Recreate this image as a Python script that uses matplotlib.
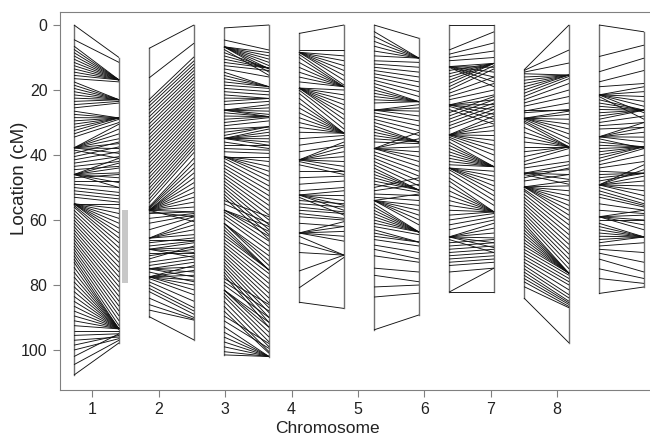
import numpy as np
import matplotlib
matplotlib.use('Agg')
import matplotlib.pyplot as plt
from matplotlib.collections import LineCollection

plt.rcParams['font.family'] = ['Liberation Sans', 'DejaVu Sans']

# marker positions (cM): (left map, right map)
chr1 = [(0, 10), (4.5, 11.5), (6.5, 16.9), (7.5, 16.9), (8.5, 16.9), (9.5, 16.9), (10.5, 16.9),
        (11.5, 16.9), (12.5, 16.9), (13.5, 16.9), (14.5, 16.9), (15.5, 16.9), (16.5, 17.5),
        (17.5, 23), (18.5, 23), (19.5, 23), (20.5, 23), (21.5, 23), (22.5, 23), (23.5, 23),
        (24.5, 23.5), (25.5, 24), (26.5, 28.6), (27.5, 28.6), (28.5, 28.6), (29.5, 28.6),
        (30.5, 28.6), (31.5, 28.6), (32.5, 28.6), (33.5, 29), (34.5, 30), (37.8, 30.5), (37.8, 32),
        (37.8, 33.5), (37.8, 35), (37.8, 36.5), (37.8, 38), (37.8, 39.5), (38.5, 41), (39.5, 36),
        (40.5, 37.5), (41.5, 39), (42.5, 40.5), (43.5, 42), (44.5, 43.5), (46, 41), (46, 42.5),
        (46, 44), (46, 45.5), (46, 47), (46, 48.5), (46, 50), (47, 46), (48, 48), (49, 50),
        (50, 51.5), (51, 52.5), (52, 53.5), (53, 54.5), (55, 55), (55, 56.5), (55, 58), (55, 59.5),
        (55, 61), (55, 62.5), (55, 64), (55, 65.5), (55.5, 67), (56, 68.5), (57, 70), (58, 71.5),
        (59, 73), (60, 74.5), (61, 76), (62, 77.5), (63, 79), (64, 80.5), (65, 82), (66, 83.5),
        (67, 85), (68, 86.5), (69, 88), (70, 89.5), (71, 91), (72, 92.5), (73, 93.5), (74.5, 93.5),
        (76, 93.5), (77.5, 93.5), (79, 93.5), (80.5, 93.5), (82, 93.5), (83.5, 93.5), (85, 93.5),
        (86.5, 93.5), (88, 93.5), (89.5, 93.5), (91, 93.5), (92.5, 93.5), (94, 94), (95.5, 95),
        (97, 96), (98.5, 95.5), (100, 96.5), (102, 95), (104.5, 97), (107.7, 97.8)]
chr2 = [(7.2, 0), (16.3, 5.6), (23, 9.8), (24, 11), (25, 12), (26.1, 13), (27.2, 14), (28.3, 15),
        (29.4, 16), (30.5, 17), (31.6, 18), (32.7, 19), (33.8, 20), (34.9, 21), (36, 22),
        (37.1, 23), (38.2, 24), (39.3, 25), (40.4, 26), (41.5, 27), (42.6, 28), (43.7, 29),
        (44.8, 30), (45.9, 31), (47, 32), (48.1, 33), (49.2, 34), (50.3, 35), (51.4, 36),
        (52.5, 37), (53.6, 38), (54.7, 39.2), (56, 41), (56.3, 42.5), (56.6, 44), (57, 45.5),
        (57, 47), (57, 48.5), (57, 50), (57, 51.5), (57, 53), (57, 54.5), (57, 56), (57, 57.5),
        (57.5, 59), (57, 60.5), (58, 57.5), (59.5, 58), (61, 58.5), (63, 59), (65.6, 60),
        (65.6, 61.5), (65.6, 63), (65.6, 64.5), (66, 66), (67, 65.5), (68, 66.5), (69, 67),
        (69, 68.5), (69, 70), (69, 71.5), (70, 70), (71, 69), (72, 68), (73, 71), (74, 72), (75, 73),
        (75, 74.5), (75, 76), (75, 77.5), (76, 79), (77.5, 74), (77.5, 75.5), (77.5, 77),
        (77.5, 78.5), (77.5, 80), (77.5, 81.5), (78, 83), (79, 85), (80, 87), (81, 88), (82, 89),
        (84, 90), (86, 90.5), (87.7, 90.8), (89.7, 96.9)]
chr3 = [(0.9, 0), (4.6, 7.7), (6.7, 8.5), (6.7, 9.5), (6.7, 10.5), (6.7, 11.5), (6.7, 12.5),
        (6.7, 13.5), (6.7, 14.5), (7.5, 15.5), (8.5, 13.3), (9.5, 13.3), (10.5, 13.3), (11.5, 13.3),
        (12.5, 14), (13.5, 16), (14.5, 19), (15.5, 19), (16.5, 19), (17.5, 19), (18.5, 19.5),
        (19.5, 20.5), (20.5, 21.5), (21.5, 22.6), (22.5, 22.6), (23.5, 22.6), (24.5, 23.5),
        (26.2, 24.5), (26.2, 25.5), (26.2, 26.5), (26.2, 27.5), (26.2, 28.2), (27, 28.2),
        (28, 28.2), (29, 28.2), (30, 28.5), (31, 29.5), (32, 31.3), (33, 31.3), (34, 31.3),
        (34.9, 32), (34.9, 33), (34.9, 34), (34.9, 35), (34.9, 36), (34.9, 37), (36, 38),
        (37, 37), (38, 38.5), (39, 39.5), (40.5, 40.5), (40.5, 42), (40.5, 43.5), (40.5, 45),
        (40.5, 46.5), (41, 48), (42, 49.5), (43, 51), (44, 52.5), (45, 54), (46, 55.5), (47, 57),
        (48, 58.5), (49, 60), (50, 61.5), (51, 63), (52, 64.5), (53, 66), (54, 59), (55, 61),
        (56.9, 62), (56.9, 63.5), (56.9, 65), (57.5, 66.5), (58.5, 68), (59.5, 69.5), (61, 71),
        (61, 72.5), (61, 74), (62, 75.4), (63, 75.4), (64, 75.4), (65, 75.4), (66, 76.5), (67, 78),
        (68, 79.5), (69, 81), (70, 82.5), (71, 84), (72, 85.5), (73, 87), (74, 88.5), (75, 90),
        (76, 91.5), (77, 93), (78, 86), (79, 88), (80, 90), (81.5, 91.5), (81.5, 93), (81.5, 94.5),
        (82.5, 96), (83.5, 97.5), (85, 99), (86.5, 100.5), (88, 101), (89.5, 98), (91, 99.5),
        (92.8, 102), (94.5, 102), (96, 102), (97.5, 102), (99, 102), (100.5, 102), (101.5, 102)]
chr4 = [(2.6, 0), (7.7, 7.7), (8.4, 9.5), (8.4, 11), (8.4, 12.5), (8.4, 14), (8.4, 15.5),
        (8.4, 17), (9, 18.5), (10, 19), (11.5, 19), (13, 19), (14.5, 19), (16, 19), (17.5, 19),
        (19.4, 20), (19.4, 21.5), (19.4, 23), (19.4, 24.5), (19.4, 26), (19.4, 27.5), (19.4, 29),
        (20, 30.5), (21, 32), (22.5, 33.3), (24, 33.3), (25.5, 33.3), (27, 33.3), (28.5, 33.3),
        (30, 33.3), (31.5, 33.3), (33, 33.3), (35, 34), (37, 35), (39, 37), (41.5, 36), (41.5, 37.5),
        (41.5, 39), (41.5, 40.5), (41.5, 42), (41.5, 43.5), (42, 45), (43, 46), (45, 45), (47, 46.5),
        (49, 48), (51, 50), (52.3, 51), (52.3, 52.5), (52.3, 54), (52.3, 55.5), (52.3, 57),
        (53, 58.5), (54, 55), (55, 56), (56, 57.5), (57, 58), (58, 59.5), (59, 60), (61, 62),
        (64, 60.5), (64, 62), (64, 63.5), (64, 65), (64, 66.5), (65, 70.8), (67, 70.8), (70, 70.8),
        (75.7, 70.8), (80.9, 71.5), (85.3, 87.2)]
chr5 = [(0, 4.1), (2, 10.2), (3.5, 10.2), (5, 10.2), (6.5, 10.2), (8, 10.2), (9.5, 10.2),
        (11, 11.5), (12, 13), (13, 14.5), (14, 16), (15, 17.5), (16, 19), (17, 20.5), (18, 22),
        (19, 23.6), (20, 23.6), (21, 23.6), (22, 23.6), (23, 23.6), (24, 23.6), (26.2, 24.5),
        (26.2, 25.5), (26.2, 26.5), (26.2, 28), (27, 29.5), (28, 31), (29, 32.5), (30, 34), (31, 36),
        (32, 36), (33, 36), (34, 36), (35, 36), (36, 36.5), (38, 33), (38, 35), (38, 37.5), (38, 39),
        (38, 40.5), (38, 42), (39, 43.5), (40, 45), (41, 46.5), (42, 48), (43, 49.5), (44, 50.8),
        (45, 50.8), (46, 50.8), (47, 50.8), (48, 50.8), (49, 51.5), (50, 47), (51, 49), (52, 52.5),
        (53, 54), (54, 52), (54, 55.5), (54, 57), (54, 58.5), (54, 60), (54, 61.5), (55, 63.7),
        (56, 63.7), (57, 63.7), (58, 63.7), (59, 63.7), (60, 63.7), (61, 63.7), (62, 64.5),
        (63, 66.8), (64, 66.8), (65, 66.8), (66, 68), (67.7, 70), (69, 72), (71, 73), (74.8, 76),
        (77, 79), (80.6, 80), (83.7, 82.5), (93.8, 89.2)]
chr6 = [(0, 0), (7.7, 2.1), (9, 5.5), (10, 8), (11, 10), (12.8, 11.8), (12.8, 13), (12.8, 14.5),
        (12.8, 16), (12.8, 17.5), (13, 19), (14, 11.8), (15, 11.8), (16, 11.8), (17, 11.8),
        (18, 11.8), (19, 12.5), (20, 13.5), (21, 16), (22, 18), (23, 20), (24.6, 21.5), (24.6, 23),
        (24.6, 24.5), (24.6, 26), (24.6, 27.5), (25, 29), (26, 30.5), (27, 22), (28, 23), (29, 24),
        (30, 25), (31, 26), (32, 27), (33.8, 28), (33.8, 29.5), (33.8, 31), (33.8, 32.5), (33.8, 34),
        (33.8, 35.5), (33.8, 37), (34, 38.5), (34.5, 40), (35, 42), (36, 43.6), (37, 43.6),
        (38, 43.6), (39, 43.6), (40, 43.6), (41, 43.6), (42, 43.6), (43, 43.6), (44, 45), (44, 46.5),
        (44, 48), (44, 49.5), (44, 51), (44.5, 52.5), (45.5, 54), (47, 55.5), (48, 57.5),
        (49.5, 57.5), (51, 57.5), (52.5, 57.5), (54, 57.5), (55.5, 57.5), (57, 57.5), (58.5, 57.5),
        (60, 58), (61.5, 59), (63, 60), (65.2, 61), (65.2, 62.5), (65.2, 64), (65.2, 65.5),
        (65.2, 67), (65.2, 68.5), (66, 70), (67, 66), (68, 67), (69, 68), (70, 69), (71, 70),
        (72, 71), (73, 72), (74, 73), (76, 74.8), (82.2, 74.8), (82.2, 82.2)]
chr7 = [(13.8, 0), (14, 7.7), (14.5, 11.7), (15, 15.4), (16, 15.4), (17, 15.4), (18, 15.4),
        (19, 15.4), (20, 15.4), (21, 15.8), (22, 16.5), (23, 18), (24, 20), (25, 22), (26, 26),
        (26.5, 24), (27, 26), (28.7, 26.5), (28.7, 27.5), (28.7, 29), (28.7, 30.5), (28.7, 32),
        (28.7, 33.5), (29, 35), (29.5, 36.5), (30, 37.5), (31.5, 37.5), (33, 37.5), (34.5, 37.5),
        (36, 37.5), (37.5, 37.5), (39, 37.5), (40.5, 37.5), (42, 38), (43, 40), (44, 42), (45.6, 43),
        (45.6, 44.5), (45.6, 46), (45.6, 47.5), (46, 49), (47, 44), (48, 46), (49.8, 48), (49.8, 49.5),
        (49.8, 51), (49.8, 52.5), (49.8, 54), (49.8, 55.5), (49.8, 57), (49.8, 58.5), (50.5, 60),
        (51, 61.5), (52, 63), (53, 64.5), (54, 66), (55, 67.5), (56, 69), (57, 70.5), (58, 72),
        (59, 73.5), (60, 75), (61, 76.4), (62, 76.4), (63, 76.4), (64, 76.4), (65, 76.4),
        (66, 76.4), (67, 76.4), (68, 76.4), (69, 77), (70, 78), (71, 79), (72, 80), (73, 81.5),
        (74, 83), (75, 84), (76, 85), (77, 85.5), (78, 86), (79, 86.6), (80.5, 87), (84, 97.8)]
chr8 = [(0, 2.1), (9.7, 6.2), (14.4, 10.2), (17.5, 14), (19, 18), (21.5, 19), (21.5, 20.5),
        (21.5, 22), (21.5, 23.5), (21.5, 25), (21.5, 27), (22, 29), (23, 26.2), (24, 26.2),
        (25, 26.2), (26, 26.2), (27, 26.2), (28, 26.2), (29, 26.2), (30, 28), (31, 30), (32, 31.5),
        (34.4, 30), (34.4, 31.5), (34.4, 33), (34.4, 34.5), (34.4, 36), (35, 38), (36, 37.5),
        (37, 37.5), (38, 37.5), (39, 37.5), (40, 37.5), (41, 37.5), (42, 38), (43, 40), (44, 42),
        (45, 45.6), (46, 45.6), (47, 45.6), (48, 45.6), (49.2, 43), (49.2, 44.5), (49.2, 46.5),
        (49.2, 48), (49.2, 49.5), (49.2, 51), (49.2, 52.5), (50, 54), (51, 55), (52, 55.5),
        (53, 56), (55, 57), (57, 58), (59, 57), (59, 58.5), (59, 60), (59, 61.5), (59, 63),
        (60, 60), (61, 65.2), (62, 65.2), (63, 65.2), (64, 65.2), (65, 65.2), (66, 65.2),
        (67, 65.2), (68, 67), (69, 70), (70.2, 73), (72, 76), (75, 78), (78, 79.5), (82.6, 80.6)]
chromosomes = [chr1, chr2, chr3, chr4, chr5, chr6, chr7, chr8]
tick_labels = ['1', '2', '3', '4', '5', '6', '7', '8']
highlight = (57, 79.5)  # grey bar beside chromosome 1

fig = plt.figure(figsize=(6.5, 4.41), dpi=100)
ax = fig.add_axes([60 / 650, 51 / 441, 590 / 650, 378 / 441])

half = 0.3
outline = '#707070'
for i, chrom in enumerate(chromosomes):
    c = i + 1
    m = np.array(chrom)
    ax.plot([c - half, c - half], [m[:, 0].min(), m[:, 0].max()], color=outline, lw=1.0)
    ax.plot([c + half, c + half], [m[:, 1].min(), m[:, 1].max()], color=outline, lw=1.0)
    segs = [[(c - half, l), (c + half, r)] for l, r in m]
    ax.add_collection(LineCollection(segs, colors='#111111', linewidths=0.65))

ax.plot([1.38, 1.38], highlight, color='#c8c8c8', lw=4.3, solid_capstyle='butt')

ax.set_xlim(1 + (60 - 96.5) / 75, 1 + (650 - 96.5) / 75)
ax.set_ylim(112.3, -4)
ticks = 1 + (92.3 - 96.5 + 66.4 * np.arange(8)) / 75
ax.set_xticks(ticks)
ax.set_xticklabels(tick_labels)
ax.set_yticks([0, 20, 40, 60, 80, 100])

for s in ['left', 'bottom', 'top']:
    ax.spines[s].set_color('#808080')
ax.spines['right'].set_visible(False)
ax.tick_params(colors='#808080', labelcolor='#222222', labelsize=11.5, length=5, pad=4)
# axis titles placed where the original figure had them
fig.text(20 / 650, 1 - 178 / 441, 'Location (cM)', rotation=90, ha='center', va='center',
         fontsize=13.5, color='#222222')
fig.text(327 / 650, 5 / 441, 'Chromosome', ha='center', va='bottom', fontsize=12.5, color='#222222')

fig.savefig('out.png', dpi=100)
